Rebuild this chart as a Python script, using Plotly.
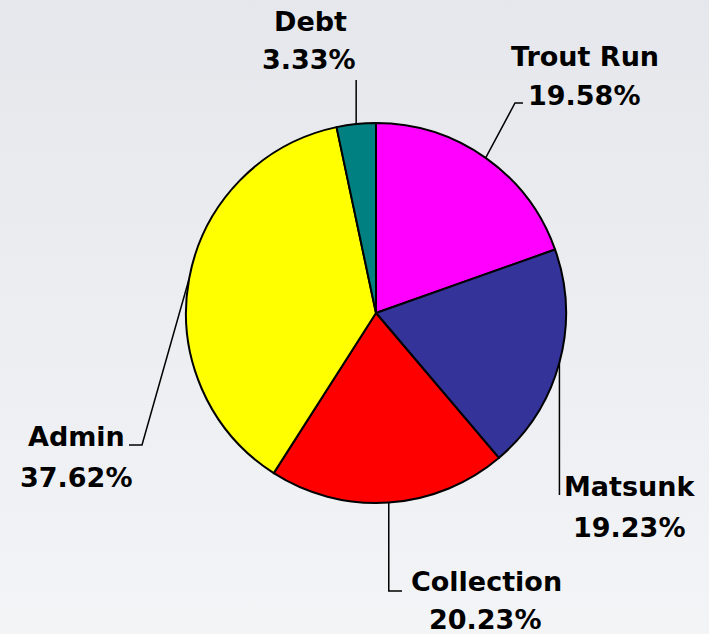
import math, base64
import plotly.graph_objects as go

W, H = 709, 634

labels = ["Trout Run", "Matsunk", "Collection", "Admin", "Debt"]
values = [19.58, 19.23, 20.23, 37.62, 3.33]
pct_text = ["19.58%", "19.23%", "20.23%", "37.62%", "3.33%"]
colors = ["#FF00FF", "#333399", "#FF0000", "#FFFF00", "#008080"]

# layout: pie center / radius in pixels
cx, cy, R = 376, 313, 190

# label layout (pixel positions of name line, percent line) and leader elbows
name_pos = {"Trout Run": (585, 56), "Matsunk": (630, 486), "Collection": (486, 581),
            "Admin": (76, 436), "Debt": (310, 21)}
pct_pos = {"Trout Run": (584, 96), "Matsunk": (629, 527), "Collection": (485, 619),
           "Admin": (76, 477), "Debt": (309, 60)}
elbow = {"Trout Run": [(515, 103), (523, 103)], "Matsunk": [(None, 495)],
         "Collection": [(None, 591), (402, 591)], "Admin": [(142, 445), (129, 445)],
         "Debt": [(None, 80)]}


def px(x):
    return x / W


def py(y):
    return 1 - y / H


fig = go.Figure()
fig.add_trace(go.Pie(
    labels=labels, values=values, sort=False, direction="clockwise", rotation=0,
    marker=dict(colors=colors, line=dict(color="black", width=2)),
    textinfo="none", hoverinfo="label+percent", showlegend=False,
    domain=dict(x=[px(cx - R), px(cx + R)], y=[py(cy + R), py(cy - R)]),
))

total = sum(values)
cum = 0.0
shapes = []
annotations = []
font = dict(family="DejaVu Sans", size=27, color="black", weight="bold")
for lab, v, pt in zip(labels, values, pct_text):
    mid = (cum + v / 2) / total * 2 * math.pi
    cum += v
    ex = cx + R * math.sin(mid)
    ey = cy - R * math.cos(mid)
    pts = [(ex, ey)]
    for (x, y) in elbow[lab]:
        pts.append((ex if x is None else x, y))
    path = "M " + " L ".join(f"{px(x):.5f},{py(y):.5f}" for x, y in pts)
    shapes.append(dict(type="path", path=path, xref="paper", yref="paper",
                       line=dict(color="black", width=1.5)))
    nx, ny = name_pos[lab]
    annotations.append(dict(text=lab, x=px(nx), y=py(ny), xref="paper", yref="paper",
                            showarrow=False, font=font, xanchor="center", yanchor="middle"))
    qx, qy = pct_pos[lab]
    annotations.append(dict(text=pt, x=px(qx), y=py(qy), xref="paper", yref="paper",
                            showarrow=False, font=font, xanchor="center", yanchor="middle"))

svg = (f'<svg xmlns="http://www.w3.org/2000/svg" width="{W}" height="{H}">'
       '<defs><linearGradient id="g" x1="0" y1="0" x2="0" y2="1">'
       '<stop offset="0" stop-color="#e5e7ec"/><stop offset="1" stop-color="#f3f4f6"/>'
       '</linearGradient></defs>'
       f'<rect width="{W}" height="{H}" fill="url(#g)"/></svg>')
src = "data:image/svg+xml;base64," + base64.b64encode(svg.encode()).decode()

fig.update_layout(
    width=W, height=H, margin=dict(l=0, r=0, t=0, b=0),
    paper_bgcolor="#eceef1", plot_bgcolor="rgba(0,0,0,0)",
    shapes=shapes, annotations=annotations,
    images=[dict(source=src, xref="paper", yref="paper", x=0, y=1, sizex=1, sizey=1,
                 xanchor="left", yanchor="top", sizing="stretch", layer="below")],
)

fig.write_html("out.html", config={"displayModeBar": False},
               post_script="document.body.style.margin='0px';document.body.style.overflow='hidden';")
